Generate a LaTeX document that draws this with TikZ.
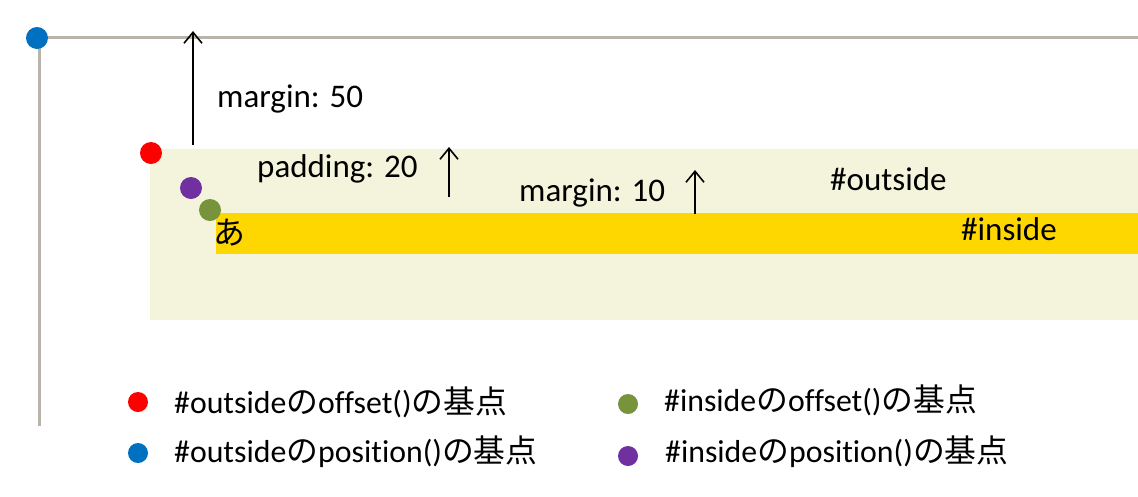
\documentclass[tikz,border=0pt]{standalone}
\usepackage{fontspec}
\setmainfont[Ligatures=NoCommon]{Carlito}
\newfontfamily\jp{Noto Sans CJK JP}
\usetikzlibrary{arrows.meta}
\definecolor{outbg}{HTML}{F4F4DC}
\definecolor{inbg}{HTML}{FFD700}
\definecolor{axis}{HTML}{B8B4AC}
\definecolor{dotblue}{HTML}{0070C0}
\definecolor{dotred}{HTML}{FF0000}
\definecolor{dotgreen}{HTML}{77933C}
\definecolor{dotpurple}{HTML}{7030A0}
\tikzset{
  dot/.style={circle,fill=#1,minimum size=22pt,inner sep=0pt},
  lbl/.style={anchor=base west,inner sep=0pt,font=\fontsize{33}{36}\selectfont},
  leg/.style={anchor=base west,inner sep=0pt,font=\fontsize{31.8}{34}\selectfont},
  dim/.style={line width=1.6pt,-{Straight Barb[length=11pt,width=18pt,line width=1.6pt]}},
  axisline/.style={axis,line width=3pt}
}
\begin{document}
\begin{tikzpicture}[x=1pt,y=-1pt]
\useasboundingbox (0,0) rectangle (1138,496);
% axes
\coordinate (o) at (38,37);
\coordinate (xr) at (1138,37);
\coordinate (yb) at (39,426);
\draw[axisline] (o) -- (xr);
\draw[axisline] (39,37) -- (yb);
% boxes
\fill[outbg] (150,149) rectangle (1138,320);
\fill[inbg] (216,213) rectangle (1138,254);
% dots
\node[dot=dotblue] (pb) at (37,38) {};
\node[dot=dotred] (pr) at (151,153) {};
\node[dot=dotpurple] (pp) at (191,188) {};
\node[dot=dotgreen] (pg) at (210,210) {};
% arrows
\coordinate (a1s) at (193,145); \coordinate (a1e) at (193,31);
\draw[dim] (a1s) -- (a1e);
\coordinate (a2s) at (449,197); \coordinate (a2e) at (449,147);
\draw[dim] (a2s) -- (a2e);
\coordinate (a3s) at (695,214); \coordinate (a3e) at (695,170);
\draw[dim] (a3s) -- (a3e);
% labels
\node[lbl] (m50) at (217,107) {margin: 50};
\node[lbl] (p20) at (257,177) {padding: 20};
\node[lbl] (m10) at (519,201) {margin: 10};
\node[lbl] (tout) at (830,190) {\#outside};
\node[lbl] (tin) at (961,240) {\#inside};
\node[anchor=base west,inner sep=0pt,font=\jp\fontsize{32}{34}\selectfont] (a) at (213,244) {あ};
% legend
\node[dot=dotred,minimum size=20pt] (lr) at (138,402) {};
\node[dot=dotblue,minimum size=20pt] (lb) at (138,453) {};
\node[dot=dotgreen,minimum size=20pt] (lg) at (628,404) {};
\node[dot=dotpurple,minimum size=20pt] (lp) at (628,456) {};
\node[leg] (t1) at (174,413) {\#outside{\jp の}offset(){\jp の基点}};
\node[leg] (t2) at (174,462) {\#outside{\jp の}position(){\jp の基点}};
\node[leg] (t3) at (664,411) {\#inside{\jp の}offset(){\jp の基点}};
\node[leg] (t4) at (665,462) {\#inside{\jp の}position(){\jp の基点}};
\end{tikzpicture}
\end{document}
